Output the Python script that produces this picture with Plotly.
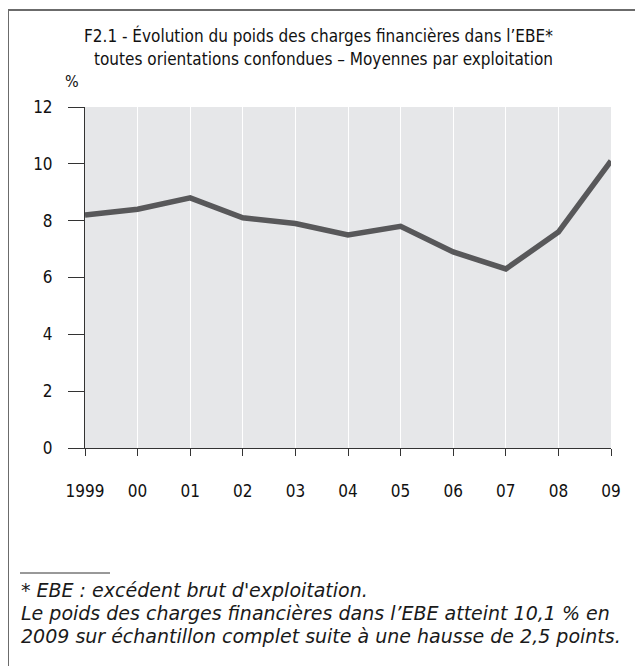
import plotly.graph_objects as go

years = [1999, 2000, 2001, 2002, 2003, 2004, 2005, 2006, 2007, 2008, 2009]
tick_labels = ["1999", "00", "01", "02", "03", "04", "05", "06", "07", "08", "09"]
values = [8.2, 8.4, 8.8, 8.1, 7.9, 7.5, 7.8, 6.9, 6.3, 7.6, 10.1]
y_ticks = [0, 2, 4, 6, 8, 10, 12]

W, H = 643, 666
OFF = 8  # page body margin offset
L, R, T, B = 85 - OFF, 611 - OFF, 107 - OFF, 448 - OFF
pw, ph = R - L, B - T

def px(x):
    return (x - OFF - L) / pw

def py(y):
    return (B - (y - OFF)) / ph

COND = "Liberation Sans Narrow, DejaVu Sans Condensed, Arial Narrow, sans-serif"
ITAL = "DejaVu Sans, Liberation Sans, Arial, sans-serif"

fig = go.Figure()
fig.add_trace(go.Scatter(
    x=years, y=values, mode="lines",
    line=dict(color="#58585a", width=5.5),
    hoverinfo="skip", showlegend=False,
))

fig.update_layout(
    width=W, height=H,
    margin=dict(l=L, r=W - R, t=T, b=H - B, pad=0),
    paper_bgcolor="white",
    plot_bgcolor="#e6e7e9",
    showlegend=False,
    font=dict(family=COND, color="#1a1a1a"),
    xaxis=dict(
        range=[1999, 2009], tickvals=years, ticktext=tick_labels,
        showgrid=True, gridcolor="white", gridwidth=1.2,
        showline=True, linecolor="#333", linewidth=1,
        ticks="outside", ticklen=7, tickcolor="#333", tickwidth=1,
        ticklabelstandoff=21,
        tickfont=dict(family=COND, size=17, color="#111"),
        zeroline=False, fixedrange=True,
    ),
    yaxis=dict(
        range=[0, 12], tickvals=y_ticks,
        showgrid=False,
        showline=True, linecolor="#333", linewidth=1,
        ticks="outside", ticklen=16, tickcolor="#333", tickwidth=1,
        ticklabelstandoff=12,
        tickfont=dict(family=COND, size=17, color="#111"),
        zeroline=False, fixedrange=True,
    ),
    shapes=[
        dict(type="line", xref="paper", yref="paper",
             x0=px(8), x1=px(651), y0=py(10), y1=py(10),
             line=dict(color="#6b6b6b", width=2)),
        dict(type="line", xref="paper", yref="paper",
             x0=px(8), x1=px(8), y0=py(10), y1=py(680),
             line=dict(color="#6b6b6b", width=2)),
        dict(type="line", xref="paper", yref="paper",
             x0=px(20), x1=px(110), y0=py(573), y1=py(573),
             line=dict(color="#333", width=1)),
    ],
    annotations=[
        dict(text="F2.1 - Évolution du poids des charges financières dans l’EBE*",
             xref="paper", yref="paper", x=px(318), y=py(36),
             xanchor="center", yanchor="middle", showarrow=False,
             font=dict(family=COND, size=17, color="#111")),
        dict(text="toutes orientations confondues – Moyennes par exploitation",
             xref="paper", yref="paper", x=px(323), y=py(59),
             xanchor="center", yanchor="middle", showarrow=False,
             font=dict(family=COND, size=17, color="#111")),
        dict(text="%",
             xref="paper", yref="paper", x=px(72), y=py(81),
             xanchor="center", yanchor="middle", showarrow=False,
             font=dict(family=COND, size=16, color="#111")),
        dict(text="<i>* EBE : excédent brut d'exploitation.</i>",
             xref="paper", yref="paper", x=px(19), y=py(590),
             xanchor="left", yanchor="middle", showarrow=False, align="left",
             font=dict(family=ITAL, size=19, color="#1a1a1a")),
        dict(text="<i>Le poids des charges financières dans l’EBE atteint 10,1 % en</i>",
             xref="paper", yref="paper", x=px(19), y=py(613),
             xanchor="left", yanchor="middle", showarrow=False, align="left",
             font=dict(family=ITAL, size=19, color="#1a1a1a")),
        dict(text="<i>2009 sur échantillon complet suite à une hausse de 2,5 points.</i>",
             xref="paper", yref="paper", x=px(19), y=py(636),
             xanchor="left", yanchor="middle", showarrow=False, align="left",
             font=dict(family=ITAL, size=19, color="#1a1a1a")),
    ],
)

fig.write_html("out.html")
